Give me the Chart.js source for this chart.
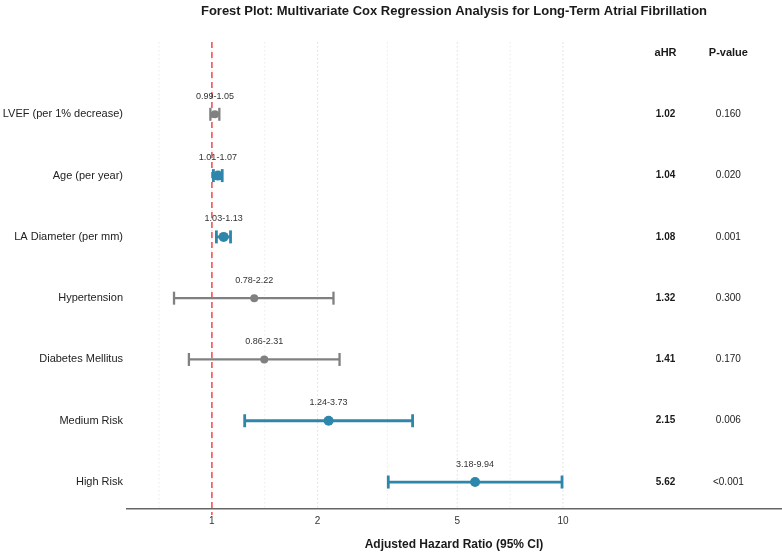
<!DOCTYPE html>
<html lang="en">
<head>
  <meta charset="UTF-8">
  <title>Forest Plot</title>
  <style>
    body {
      margin: 0;
      padding: 0;
      background-color: #fff;
      font-family: "Liberation Sans", Arial, sans-serif;
    }
    .chart-box {
      width: 782px;
      height: 553px;
      position: relative;
    }
  </style>
</head>
<body>
  <div class="chart-box">
    <canvas id="forestChart"></canvas>
  </div>

  <script src="https://cdn.jsdelivr.net/npm/chart.js"></script>
  <script>
    // data, top row first
    const categories = ['LVEF (per 1% decrease)', 'Age (per year)', 'LA Diameter (per mm)',
      'Hypertension', 'Diabetes Mellitus', 'Medium Risk', 'High Risk'];
    const hr = [1.02, 1.04, 1.08, 1.32, 1.41, 2.15, 5.62];
    const lower = [0.99, 1.01, 1.03, 0.78, 0.86, 1.24, 3.18];
    const upper = [1.05, 1.07, 1.13, 2.22, 2.31, 3.73, 9.94];
    const pValues = ['0.160', '0.020', '0.001', '0.300', '0.170', '0.006', '<0.001'];
    const significant = [false, true, true, false, false, true, true];
    const xTicks = [1, 2, 5, 10];
    const minorGrid = [0.7071, 1.4142, 3.1623, 7.0711];

    const BLUE = '#2e86ab';
    const GREY = '#808080';
    const FONT = '"Liberation Sans", Arial, sans-serif';

    // row position on the y axis (top row gets the highest value)
    const rowY = i => categories.length - i;
    const headerY = categories.length + 1;

    const datasets = [];
    categories.forEach((c, i) => {
      const col = significant[i] ? BLUE : GREY;
      datasets.push({
        label: c + ' CI',
        data: [{ x: lower[i], y: rowY(i) }, { x: upper[i], y: rowY(i) }],
        showLine: true,
        borderColor: col,
        borderWidth: significant[i] ? 2.8 : 2.3,
        pointStyle: 'line',
        rotation: 90,
        pointRadius: 6.5,
        pointBorderColor: col,
        pointBorderWidth: significant[i] ? 2.8 : 2.3,
        pointHoverRadius: 6.5
      });
    });
    datasets.push({
      label: 'aHR',
      data: hr.map((v, i) => ({ x: v, y: rowY(i) })),
      showLine: false,
      pointStyle: 'circle',
      pointRadius: significant.map(s => s ? 5 : 4),
      backgroundColor: significant.map(s => s ? BLUE : GREY),
      borderColor: significant.map(s => s ? BLUE : GREY),
      borderWidth: 0
    });

    // grid, reference line, title and text columns
    const forestExtras = {
      id: 'forestExtras',
      beforeDatasetsDraw(chart) {
        const ctx = chart.ctx;
        const xs = chart.scales.x;
        const area = chart.chartArea;
        ctx.save();
        ctx.lineWidth = 0.8;
        ctx.setLineDash([1.5, 2.5]);
        ctx.strokeStyle = '#e6e6e6';
        minorGrid.forEach(v => {
          const px = xs.getPixelForValue(v);
          ctx.beginPath();
          ctx.moveTo(px, area.top);
          ctx.lineTo(px, area.bottom);
          ctx.stroke();
        });
        ctx.strokeStyle = '#d4d4d4';
        xTicks.forEach(v => {
          const px = xs.getPixelForValue(v);
          ctx.beginPath();
          ctx.moveTo(px, area.top);
          ctx.lineTo(px, area.bottom);
          ctx.stroke();
        });
        // null line at HR = 1
        const x1 = xs.getPixelForValue(1);
        ctx.strokeStyle = '#f24b4b';
        ctx.lineWidth = 1.5;
        ctx.setLineDash([6, 4]);
        ctx.beginPath();
        ctx.moveTo(x1, area.top);
        ctx.lineTo(x1, area.bottom + 6);
        ctx.stroke();
        ctx.restore();
      },
      afterDatasetsDraw(chart) {
        const ctx = chart.ctx;
        const xs = chart.scales.x;
        const ys = chart.scales.y;
        const area = chart.chartArea;
        ctx.save();
        ctx.textAlign = 'center';
        ctx.textBaseline = 'middle';

        // title
        ctx.fillStyle = '#1a1a1a';
        ctx.font = 'bold 13px ' + FONT;
        ctx.fillText('Forest Plot: Multivariate Cox Regression Analysis for Long-Term Atrial Fibrillation',
          (area.left + area.right) / 2, 11);

        // column headers
        ctx.font = 'bold 11px ' + FONT;
        ctx.fillText('aHR', xs.getPixelForValue(19.6), ys.getPixelForValue(headerY));
        ctx.fillText('P-value', xs.getPixelForValue(29.6), ys.getPixelForValue(headerY));

        categories.forEach((c, i) => {
          const py = ys.getPixelForValue(rowY(i));
          ctx.fillStyle = '#333';
          ctx.font = '9px ' + FONT;
          ctx.fillText(lower[i].toFixed(2) + '-' + upper[i].toFixed(2), xs.getPixelForValue(hr[i]), py - 18);
          ctx.fillStyle = '#1a1a1a';
          ctx.font = 'bold 10px ' + FONT;
          ctx.fillText(hr[i].toFixed(2), xs.getPixelForValue(19.6), py);
          ctx.fillStyle = '#222';
          ctx.font = '10px ' + FONT;
          ctx.fillText(pValues[i], xs.getPixelForValue(29.6), py);
        });
        ctx.restore();
      }
    };

    const ctx = document.getElementById('forestChart').getContext('2d');
    const forestChart = new Chart(ctx, {
      type: 'scatter',
      data: { datasets: datasets },
      options: {
        responsive: true,
        maintainAspectRatio: false,
        animation: false,
        layout: { autoPadding: false, padding: { top: 42, right: 1, left: 0, bottom: 0 } },
        plugins: {
          legend: { display: false },
          tooltip: { enabled: false }
        },
        scales: {
          x: {
            type: 'logarithmic',
            min: 0.573,
            max: 41.8,
            afterBuildTicks: axis => {
              axis.ticks = xTicks.map(v => ({ value: v }));
            },
            afterFit: axis => { axis.height = 44; },
            ticks: {
              padding: 6,
              color: '#333',
              font: { size: 10, family: FONT },
              callback: v => String(v),
              maxRotation: 0,
              autoSkip: false
            },
            grid: { display: false, drawTicks: false },
            border: { display: true, color: '#666', width: 1.5 },
            title: {
              display: true,
              text: 'Adjusted Hazard Ratio (95% CI)',
              color: '#1a1a1a',
              font: { size: 12, weight: 'bold', family: FONT },
              padding: { top: 0, bottom: 1 }
            }
          },
          y: {
            type: 'linear',
            min: 0.56,
            max: 8.18,
            afterBuildTicks: axis => {
              axis.ticks = categories.map((c, i) => ({ value: rowY(i) }));
            },
            afterFit: axis => { axis.width = 127; },
            ticks: {
              padding: 4,
              color: '#222',
              font: { size: 11, family: FONT },
              callback: v => categories[categories.length - v]
            },
            grid: { display: false, drawTicks: false },
            border: { display: false }
          }
        }
      },
      plugins: [forestExtras]
    });
  </script>
</body>
</html>
